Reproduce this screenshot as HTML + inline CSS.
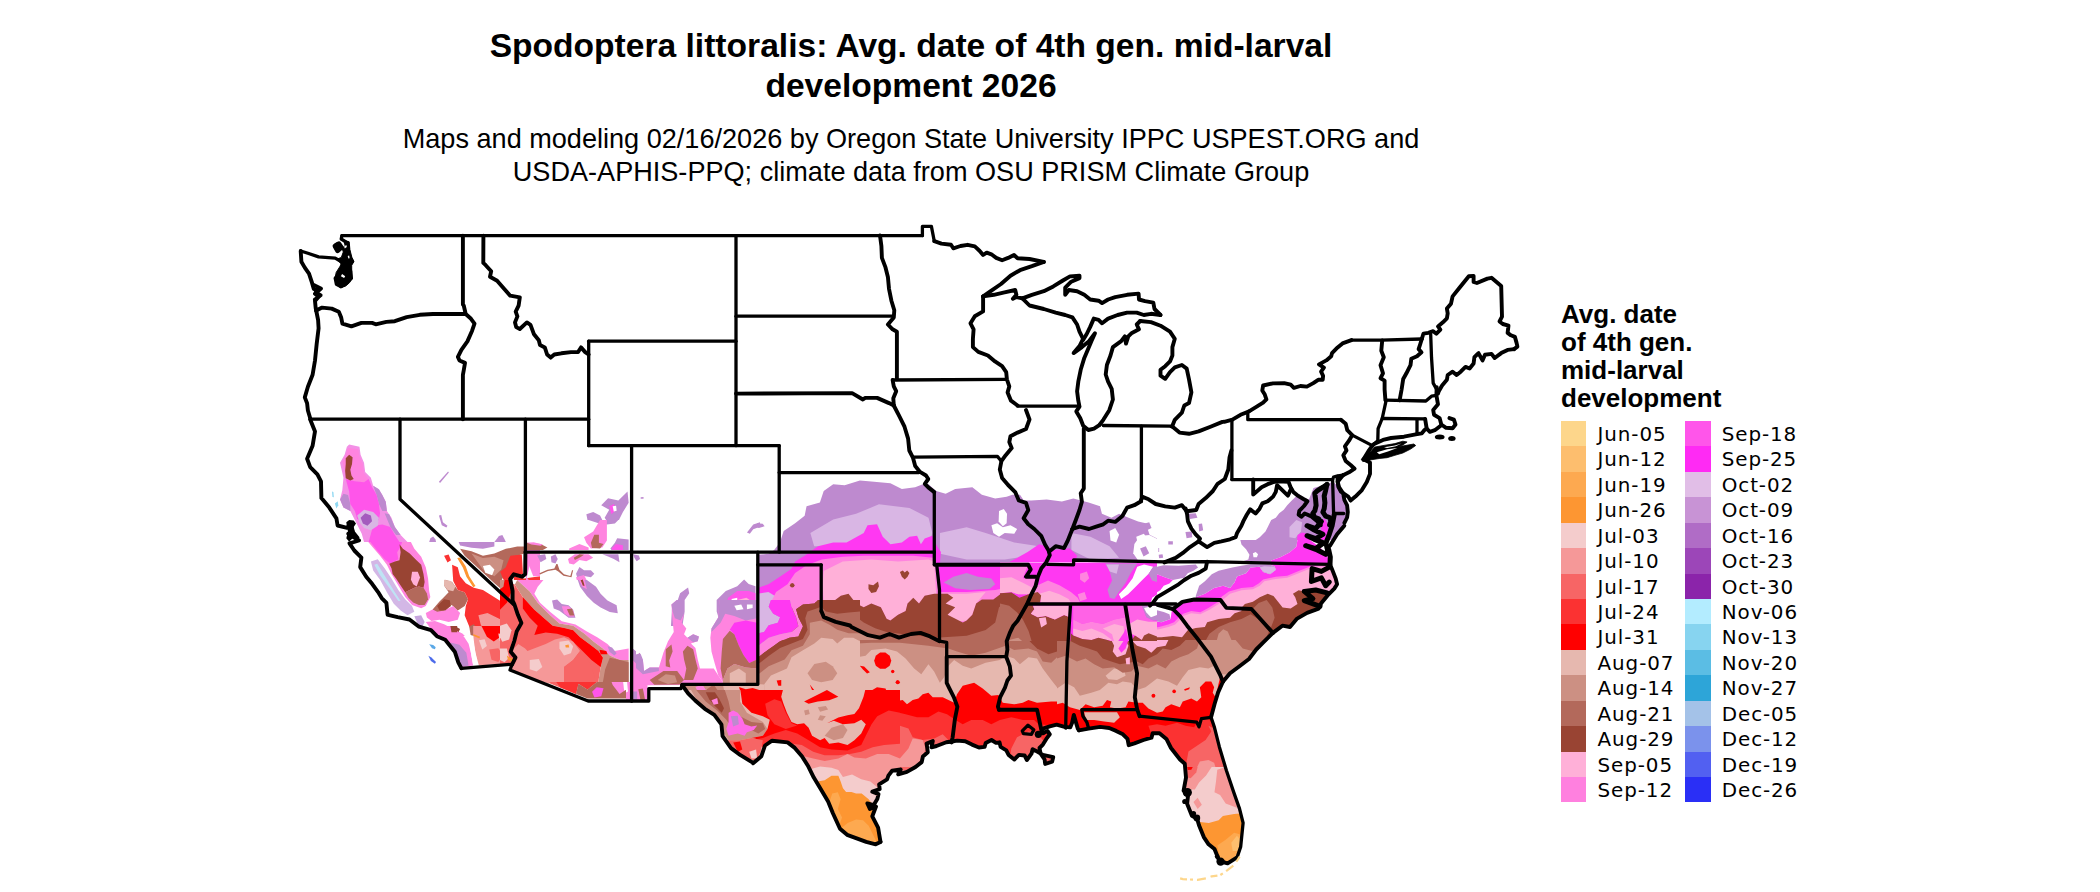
<!DOCTYPE html>
<html lang="en">
<head>
<meta charset="utf-8">
<title>Spodoptera littoralis: Avg. date of 4th gen. mid-larval development 2026</title>
<style>
html,body{margin:0;padding:0;background:#fff;}
body{width:2100px;height:892px;position:relative;overflow:hidden;font-family:"Liberation Sans",sans-serif;color:#000;}
.title{position:absolute;left:0;width:1822px;top:26.4px;text-align:center;font-weight:bold;font-size:33.6px;line-height:39.6px;margin:0;}
.sub{position:absolute;left:0;width:1822px;top:122.1px;text-align:center;font-size:27.1px;line-height:33px;margin:0;}
.legtitle{position:absolute;left:1561px;top:301.3px;font-weight:bold;font-size:26px;line-height:27.93px;margin:0;white-space:nowrap;}
.leg{position:absolute;top:420.9px;margin:0;padding:0;list-style:none;}
.leg li{position:relative;height:25.45px;padding-left:36.6px;font-family:"DejaVu Sans",sans-serif;font-size:19.9px;letter-spacing:0.9px;line-height:28.5px;white-space:nowrap;}
.leg i{position:absolute;left:0;top:0;display:block;width:25.4px;height:25.45px;}
#map{position:absolute;left:0;top:0;}
.b{fill:none;stroke:#000;stroke-width:3.3;stroke-linejoin:round;stroke-linecap:round;}
</style>
</head>
<body>
<h1 class="title">Spodoptera littoralis: Avg. date of 4th gen. mid-larval<br>development 2026</h1>
<p class="sub">Maps and modeling 02/16/2026 by Oregon State University IPPC USPEST.ORG and<br>USDA-APHIS-PPQ; climate data from OSU PRISM Climate Group</p>
<svg id="map" width="2100" height="892" viewBox="0 0 2100 892">
<defs>
<clipPath id="us"><path d="M310.2 419.5 315 431.4 312.6 445.7 307.1 458.8 310.2 467.1 317.4 474.3 321 481.4 321.4 498.1 329.3 507.6 336.4 518.3 337.6 525.5 347.1 527.9 350.7 523.1 352.4 531.4 348.3 533.8 359 540.5 349.5 543.3 354.3 550.5 361.4 557.6 360.2 567.1 366.2 576.7 372.1 583.8 378.1 592.1 381.7 598.1 386.4 602.9 387.6 614.8 388.1 614.8 397.6 617.1 409.5 619.5 419 626.7 431 630.2 436.9 636.2 445.2 639.8 454.8 651.7 458.3 662.4 461.4 668.3 461.4 668.3 511.9 664.3 511.9 664.8 510 670 588.1 701 631.7 701 631.7 701 648.8 701 648.8 688.6 681 688.6 682.1 684.3 757.1 684.3 682.1 685 688.1 693.3 695.2 700.5 704.8 708.8 714.3 714.8 721.4 724.3 722.6 736.2 731 748.1 740.5 755.2 752.4 762.4 753.1 763.3 761.4 756.2 765 745.5 772.1 740.7 787.6 742.4 794.8 747.9 801.9 756.2 807.9 765.7 813.8 777.6 821 789.5 828.1 801.4 832.9 813.3 840 828.8 847.1 834.8 856.7 838.3 866.2 841.9 875.7 844.3 880.5 841.9 880.5 841.9 878.1 827.6 872.3 816.3 876 806.5 869.9 808.9 867.4 803.4 873.6 805.2 877.3 799.1 878.5 794.1 872.3 791.7 879.7 789.2 879.1 784.3 887.1 779.3 888.4 775.6 892.1 770.7 900.7 769.5 898.2 774.4 906.9 771.9 915.5 767 921.7 762.1 922.9 756.5 927.8 752.2 926.6 743.6 932.8 741.1 931.5 747.3 936.5 746 946.3 742.3 953.7 741.3 950.9 741.7 957.2 740.6 965.2 741.2 972 744.6 978.9 747.5 984.6 746.9 985.7 742.9 991.5 740 996 742.9 999.5 742.3 1000.6 746.9 1006.3 750.3 1008.6 754.9 1014.3 759.5 1018.9 754.9 1024.6 755.5 1026.9 760 1031.5 753.7 1032.6 749.2 1037.2 751.5 1042.9 754.9 1053.2 757.2 1052.1 761.7 1045.2 764 1044.6 759.5 1040.6 753.7 1039.5 748 1042.9 744.6 1046.3 738.9 1049.8 734.3 1047.5 730.9 1042.9 733.2 1042.9 733.2 1042.9 728.6 1049.8 726.3 1056.6 724.6 1064.6 726.9 1070.3 727.4 1072.1 722.9 1073.8 714.9 1076.1 722.9 1077.8 728.6 1078.9 730.3 1078.9 730.3 1088.6 728.6 1100.1 726.9 1109.2 728 1116.1 730.9 1122.9 734.3 1127.5 738.9 1128.7 745.2 1134.4 743.4 1143.5 740 1151.5 737.7 1152.7 733.2 1159.5 733.2 1166.4 738.9 1171 748 1175.5 753.7 1180 759.5 1184.8 763.8 1186 777.6 1183.6 790.7 1188.3 793.1 1187.1 803.8 1191.9 815.7 1197.1 818.6 1199 825.2 1203.8 837.1 1208.6 844.3 1214.5 849 1219.3 861 1227.6 863.3 1237.1 857.4 1237.1 857.4 1240.7 846.7 1243.1 822.9 1239.5 808.6 1233.6 791.9 1226.4 770.5 1219.3 746.7 1214.5 727.6 1211 716.9 1211 717.4 1214.5 704.3 1218.1 692.4 1222.9 681.7 1222.9 681.7 1230 673.3 1239.5 666.2 1249 659 1256.2 649.5 1263.3 642.4 1272.9 632.9 1272.9 632.9 1282.4 625.7 1290 627 1297.1 618.6 1307.1 612.9 1318.6 608.6 1321.4 602.9 1328.6 594.3 1334.3 588.6 1337.1 584.3 1335.7 578.6 1332.9 571.4 1330 564.3 1327.1 548.6 1330 545.7 1337.1 534.3 1344.3 525.7 1347.1 517.5 1347.8 512.1 1347.1 505.4 1344.4 500 1343.1 493.3 1339 487.2 1337.7 481.8 1343.1 475.1 1337.6 476.8 1337.6 481.2 1338.4 486.9 1340.9 491.7 1348.2 496.6 1350.6 500.6 1355.4 496.6 1361.9 490.1 1366.8 482 1370 473.9 1370 462.6 1363.5 459.3 1368.4 451.2 1372.4 445.6 1420 440 1420 400 290 400Z"/></clipPath>
<clipPath id="cFA"><rect x="757" y="465" width="400" height="175"/></clipPath>
<clipPath id="cFB1"><rect x="1157" y="440" width="243" height="100"/></clipPath>
<clipPath id="cFB2"><rect x="1157" y="540" width="243" height="101"/></clipPath>
<clipPath id="cFC1"><rect x="757" y="640" width="300" height="127"/></clipPath>
<clipPath id="cFC2"><rect x="1057" y="640" width="343" height="127"/></clipPath>
<clipPath id="cFD1"><rect x="757" y="767" width="337" height="125"/></clipPath>
<clipPath id="cFD2"><rect x="1094" y="767" width="350" height="125"/></clipPath>
<clipPath id="cW1"><rect x="300" y="440" width="240" height="102"/></clipPath>
<clipPath id="cW2"><rect x="300" y="542" width="240" height="94"/></clipPath>
<clipPath id="cW3"><rect x="400" y="626" width="240" height="106"/></clipPath>
<clipPath id="cW5"><rect x="526" y="470" width="234" height="156"/></clipPath>
<clipPath id="cW6"><rect x="626" y="600" width="234" height="102"/></clipPath>
<clipPath id="cW7"><rect x="660" y="690" width="240" height="102"/></clipPath>
<clipPath id="cW8"><rect x="500" y="580" width="136" height="102"/></clipPath>
<clipPath id="cFE"><rect x="1000" y="562" width="157" height="79"/></clipPath>
<clipPath id="cW4"><rect x="526" y="480" width="154" height="40"/></clipPath>
<clipPath id="cFK"><rect x="1100" y="480" width="60" height="82"/></clipPath>
</defs>
<g clip-path="url(#us)">
<g clip-path="url(#cFA)"><g transform="translate(757 470) scale(0.19057)">
<path fill="#BE8ACF" d="M0 445 60 440 90 420 120 380 140 320 200 280 250 240 260 190 330 170 350 110 400 75 460 80 540 55 600 60 700 70 760 100 830 90 870 75 900 75 940 110 990 125 1040 100 1130 90 1180 130 1250 150 1310 140 1340 130 1380 130 1400 160 1440 160 1520 155 1600 165 1660 150 1700 160 1740 170 1800 190 1810 230 1860 250 1900 230 1950 250 2000 270 2040 280 2060 340 2099 360 2099 892 0 892Z"/>
<path fill="#BE8ACF" d="M0 280 30 282 40 295 10 305 0 300Z"/>
<path fill="#D9B6E4" d="M280 330 400 260 520 230 640 180 800 200 900 250 920 330 900 400 400 400 300 400Z"/>
<path fill="#D9B6E4" d="M960 330 1100 300 1200 330 1350 380 1480 400 1500 440 1300 470 1100 470 960 440Z"/>
<path fill="#D9B6E4" d="M1650 330 1750 350 1850 400 1900 460 1750 470 1650 420Z"/>
<path fill="#FF38F2" d="M0 620 60 600 120 560 180 520 200 480 250 450 320 400 400 380 470 380 560 330 580 290 630 285 660 350 700 390 760 380 800 350 840 345 860 390 880 360 920 345 945 400 965 430 960 490 1000 505 1300 495 1350 470 1420 430 1480 390 1520 400 1560 420 1640 410 1680 450 1665 490 1750 500 1850 520 1900 560 1880 620 1860 680 1900 720 1960 740 2099 700 2099 892 0 892Z"/>
<path fill="#D9B6E4" d="M0 650 60 640 110 670 120 740 90 800 110 870 60 892 0 892Z"/>
<path fill="#BE8ACF" d="M980 590 1030 560 1100 540 1160 560 1230 570 1250 600 1220 625 1120 630 1040 620Z"/>
<path fill="#FF84DF" d="M100 892 110 800 60 720 100 640 160 600 200 540 260 500 340 470 450 455 560 450 700 450 820 450 925 460 945 520 955 600 960 640 1100 640 1250 630 1400 600 1430 570 1480 560 1500 530 1560 510 1640 520 1700 540 1760 560 1800 600 1840 640 1850 690 1900 730 2099 720 2099 892Z"/>
<path fill="#FF38F2" d="M1560 560 1640 570 1700 620 1760 640 1740 690 1660 680 1600 640Z"/>
<path fill="#FFB0D8" d="M350 530 450 480 600 470 740 480 900 470 930 480 940 650 880 660 850 700 820 680 790 700 780 740 740 760 700 790 680 780 650 720 600 700 560 720 520 700 480 660 440 660 400 690 350 700 345 600Z"/>
<path fill="#FFB0D8" d="M960 650 1100 650 1200 640 1150 700 1130 760 1100 790 1000 800 960 780Z"/>
<path fill="#994433" d="M160 892 170 720 250 700 330 690 350 700 400 690 440 660 480 650 520 700 560 720 600 700 650 720 680 780 700 790 740 760 780 740 790 700 820 670 850 700 880 660 930 650 1000 650 1030 670 990 700 1040 720 1000 760 1080 800 1100 790 1130 760 1150 700 1180 680 1240 680 1280 650 1340 660 1400 640 1420 620 1440 650 1490 660 1480 700 1500 740 1560 780 1640 780 1640 892Z"/>
<path fill="#B3695B" d="M200 892 230 800 280 740 340 720 420 740 470 720 520 770 560 800 620 830 680 850 760 860 850 870 940 880 1100 870 1200 840 1250 800 1270 720 1300 700 1320 740 1340 800 1330 892Z"/>
<path fill="#CC9083" d="M230 892 260 820 330 790 430 800 520 840 600 880 640 892Z"/>
<path fill="#994433" d="M750 535 765 528 775 538 788 528 800 540 790 560 775 575 760 560Z"/>
<path fill="#994433" d="M585 600 610 605 635 585 640 610 625 640 600 645 585 625Z"/>
<path fill="#994433" d="M197 605 193.5 613.5 185 617 176.5 613.5 173 605 176.5 596.5 185 593 193.5 596.5Z"/>
<path fill="#FFFFFF" d="M1270 215 1295 205 1312 230 1310 280 1290 295 1268 270Z"/>
<path fill="#FFFFFF" d="M1230 290 1260 280 1290 300 1330 290 1365 310 1350 335 1300 330 1270 350 1240 330Z"/>
<path fill="#FFFFFF" d="M1850 320 1880 305 1900 340 1885 380 1855 370Z"/>
<path fill="#FFFFFF" d="M1990 350 2030 335 2055 370 2040 400 2000 395Z"/>
<path fill="#FFFFFF" d="M1900 690 1940 640 2000 570 2050 520 2099 490 2099 560 2040 600 1990 660 1950 700Z"/>
</g></g>
<g clip-path="url(#cFB1)"><g transform="translate(1150 440) scale(0.11434)">
<path fill="#BE8ACF" d="M900 892 960 850 1010 800 1030 760 1060 700 1100 680 1130 640 1170 610 1200 570 1240 530 1270 500 1300 470 1340 500 1390 520 1410 470 1430 420 1500 400 1560 380 1600 365 1640 400 1660 450 1690 520 1720 580 1735 640 1700 720 1660 780 1620 840 1590 892Z"/>
<path fill="#D9B6E4" d="M1220 760 1280 700 1330 720 1320 800 1270 860 1220 850Z"/>
<path fill="#FF38F2" d="M1285 892 1290 830 1330 810 1380 820 1410 870 1430 892Z"/>
<path fill="#FF38F2" d="M1490 700 1530 690 1555 740 1560 800 1540 860 1520 892 1480 892 1500 800Z"/>
<path fill="#BE8ACF" d="M335 645 400 640 415 680 350 690Z"/>
<path fill="#BE8ACF" d="M425 735 455 730 465 790 430 800Z"/>
<path fill="#BE8ACF" d="M310 805 365 800 370 850 320 860Z"/>
</g></g>
<g clip-path="url(#cFB2)"><g transform="translate(1150 540) scale(0.11434)">
<path fill="#BE8ACF" d="M790 0 800 40 840 80 870 130 860 170 800 190 790 205 1050 205 1060 180 1140 150 1220 110 1280 60 1290 0Z"/>
<path fill="#FFFFFF" d="M900 115 925 105 945 125 935 150 905 150Z"/>
<path fill="#FF38F2" d="M1290 0 1280 60 1220 110 1140 150 1060 180 1050 205 1570 205 1545 120 1480 60 1400 0Z"/>
<path fill="#BE8ACF" d="M40 70 80 70 80 105 40 105Z"/>
<path fill="#BE8ACF" d="M160 10 200 10 200 40 160 40Z"/>
<path fill="#BE8ACF" d="M0 110 30 105 35 135 0 140Z"/>
<path fill="#BE8ACF" d="M75 130 110 125 115 155 80 160Z"/>
<path fill="#FF38F2" d="M400 500 480 470 560 420 640 400 700 420 740 370 760 320 840 290 880 240 960 235 990 280 1050 300 1100 260 1090 230 1040 212 1600 212 1700 400 1700 892 0 892 0 700 100 720 180 690 190 620 250 560 350 520 400 515Z"/>
<path fill="#BE8ACF" d="M400 490 430 400 480 360 540 300 600 270 720 240 800 225 880 212 1040 212 1090 230 1100 260 1050 300 990 280 960 235 880 240 840 290 760 320 740 370 700 420 640 400 560 420 480 470 400 500Z"/>
<path fill="#D9B6E4" d="M960 240 1000 230 1090 235 1100 262 1050 298 990 278Z"/>
<path fill="#BE8ACF" d="M30 240 120 220 250 225 400 215 420 240 380 270 330 290 300 330 200 350 140 330 60 300Z"/>
<path fill="#FF38F2" d="M0 330 60 300 140 330 200 350 170 380 120 400 90 440 40 470 0 480Z"/>
<path fill="#BE8ACF" d="M0 620 60 615 120 630 170 650 180 690 100 720 0 700Z"/>
<path fill="#FF84DF" d="M620 500 690 450 800 420 900 410 950 380 990 345 1100 322 1200 312 1300 272 1400 232 1480 222 1600 215 1700 400 1700 892 0 892 0 770 80 760 160 740 210 720 250 680 290 645 360 622 440 632 510 595 590 545Z"/>
<path fill="#FFB0D8" d="M640 520 700 470 800 440 900 430 960 400 1000 360 1100 340 1200 330 1300 290 1400 250 1480 240 1600 230 1700 400 1700 892 0 892 0 790 80 780 160 760 220 740 260 700 300 660 360 640 440 650 520 610 600 560Z"/>
<path fill="#994433" d="M800 592 830 560 900 540 960 500 1030 470 1080 490 1120 540 1160 590 1230 600 1290 560 1270 500 1250 470 1300 440 1350 450 1400 440 1470 430 1540 470 1640 450 1700 500 1700 892 0 892 0 850 100 850 200 840 280 850 330 790 400 770 480 760 500 720 600 690 700 680 740 640 800 620Z"/>
<path fill="#B3695B" d="M880 620 950 550 1020 525 1070 590 1090 680 1060 760 1000 740 950 660Z"/>
<path fill="#B3695B" d="M480 892 520 820 600 760 700 720 800 690 880 650 960 700 1040 800 1000 892Z"/>
<path fill="#CC9083" d="M580 892 600 820 640 780 680 800 720 892Z"/>
</g></g>
<g clip-path="url(#cFC1)"><g transform="translate(757 640) scale(0.14286)">
<path fill="#E6B8AF" d="M0 0 2100 0 2100 892 0 892Z"/>
<path fill="#CC9083" d="M0 0 2100 0 2100 330 2060 280 2000 200 1960 130 1900 120 1840 170 1800 130 1740 110 1700 140 1600 160 1500 200 1440 180 1380 140 1340 180 1310 260 1280 300 1240 220 1200 170 1150 240 1100 200 1040 130 980 80 900 60 800 70 760 110 700 120 640 90 560 100 500 60 440 70 380 110 300 110 250 150 220 220 160 260 100 280 40 260 0 300Z"/>
<path fill="#CC9083" d="M370 250 420 230 500 250 560 200 620 190 700 230 720 270 660 300 640 350 580 320 500 330 440 290 380 290Z"/>
<path fill="#CC9083" d="M520 620 580 590 640 610 620 680 560 700 500 670Z"/>
<path fill="#B3695B" d="M0 0 2100 0 2100 120 2060 160 2000 150 1960 80 1900 60 1800 70 1740 40 1600 90 1500 110 1400 80 1340 60 1200 40 1000 20 800 20 600 30 400 40 300 60 220 130 140 180 60 200 0 230Z"/>
<path fill="#994433" d="M0 0 300 0 260 40 180 90 100 150 40 180 0 190Z"/>
<path fill="#994433" d="M1900 0 2100 0 2100 80 2040 100 1960 60Z"/>
<path fill="#FF84DF" d="M0 0 160 0 120 40 60 80 0 100Z"/>
<path fill="#FF38F2" d="M0 0 100 0 40 50 0 60Z"/>
<path fill="#FF0000" d="M0 360 60 360 120 390 170 420 200 480 220 560 260 600 320 580 360 620 380 680 420 720 470 750 540 740 600 760 640 740 680 700 730 660 750 620 700 560 640 540 580 540 520 580 480 580 560 530 640 510 700 500 730 460 740 400 790 360 840 330 900 340 920 400 960 430 1020 420 1050 450 1090 420 1130 410 1160 380 1200 370 1230 400 1300 400 1340 420 1380 440 1400 380 1440 320 1520 300 1580 340 1640 390 1690 385 1720 440 1800 450 1860 440 1900 420 1960 440 2060 430 2100 430 2100 892 0 892Z"/>
<path fill="#FF0000" d="M940 145 928.5 180.3 898.5 202.1 861.5 202.1 831.5 180.3 820 145 831.5 109.7 861.5 87.9 898.5 87.9 928.5 109.7Z"/>
<path fill="#FF0000" d="M168 300 162.7 312.7 150 318 137.3 312.7 132 300 137.3 287.3 150 282 162.7 287.3Z"/>
<path fill="#FF0000" d="M1000 295 995.6 305.6 985 310 974.4 305.6 970 295 974.4 284.4 985 280 995.6 284.4Z"/>
<path fill="#FF0000" d="M962 220 958.5 228.5 950 232 941.5 228.5 938 220 941.5 211.5 950 208 958.5 211.5Z"/>
<path fill="#FF0000" d="M720 180 750 185 790 225 770 235 740 205Z"/>
<path fill="#FF0000" d="M330 435 380 400 440 350 520 380 565 410 480 430 400 445Z"/>
<path fill="#FB3232" d="M0 420 50 410 130 440 180 500 200 580 240 640 300 640 340 680 380 740 440 770 560 775 660 770 720 720 760 640 780 560 850 540 870 490 960 500 1040 520 1120 540 1200 540 1270 500 1330 520 1390 560 1440 590 1500 560 1580 560 1640 590 1700 560 1780 540 1860 560 1940 560 1970 590 2100 600 2100 892 0 892Z"/>
<path fill="#F76565" d="M0 690 100 650 200 640 260 680 330 730 400 780 500 800 640 790 720 770 780 720 800 640 880 620 960 640 1000 600 1060 620 1090 680 1160 700 1240 690 1300 660 1340 700 1340 892 0 892Z"/>
<path fill="#F76565" d="M1760 892 1780 760 1820 680 1900 640 1960 650 2000 700 2060 720 2100 700 2100 892Z"/>
<path fill="#F59898" d="M380 892 400 840 480 830 600 850 700 830 760 800 840 810 900 840 1000 830 1060 760 1090 690 1160 700 1180 760 1160 820 1100 892Z"/>
<path fill="#B3695B" d="M0 560 40 550 90 590 80 640 40 660 0 670Z"/>
</g></g>
<g clip-path="url(#cFC2)"><g transform="translate(1057 640) scale(0.14286)">
<path fill="#E6B8AF" d="M0 0 2100 0 2100 892 0 892Z"/>
<path fill="#CC9083" d="M0 0 2100 0 2100 300 1160 240 1120 230 1100 180 1060 200 1000 190 920 210 880 260 840 320 780 290 700 270 620 330 560 350 520 300 460 290 420 310 360 300 300 350 240 370 160 390 120 330 60 300 0 340Z"/>
<path fill="#E6B8AF" d="M340 250 400 200 470 210 480 250 420 280 360 275Z"/>
<path fill="#B3695B" d="M0 0 1000 0 980 60 920 100 860 120 800 150 760 200 700 170 640 200 560 180 520 220 460 230 400 190 320 200 260 170 200 130 140 150 60 110 0 130Z"/>
<path fill="#B3695B" d="M1250 0 1300 60 1380 80 1420 40 1480 0Z"/>
<path fill="#994433" d="M80 0 900 0 860 40 800 70 740 60 700 100 640 130 600 170 560 150 500 160 440 170 380 150 320 130 280 80 220 60 160 40Z"/>
<path fill="#FFB0D8" d="M380 0 480 0 500 40 480 100 420 120 390 80 400 40Z"/>
<path fill="#FFB0D8" d="M520 0 780 0 760 40 700 50 660 90 620 60 560 40Z"/>
<path fill="#FFB0D8" d="M480 130 510 120 510 170 485 170Z"/>
<path fill="#FF38F2" d="M430 60 470 0 500 0 480 60 450 90Z"/>
<path fill="#FF0000" d="M0 450 40 440 90 470 160 490 200 450 260 470 320 460 350 420 380 430 370 470 420 480 480 470 500 430 560 440 600 440 640 480 700 510 740 500 760 470 800 450 860 470 880 430 940 410 980 430 1010 400 1000 330 1040 290 1080 290 1100 330 1090 370 1110 400 1130 310 1140 270 1180 260 2100 260 2100 892 0 892Z"/>
<path fill="#E6B8AF" d="M190 505 420 505 440 540 400 580 330 570 260 560 200 560Z"/>
<path fill="#FF0000" d="M689 390 684.9 399.9 675 404 665.1 399.9 661 390 665.1 380.1 675 376 684.9 380.1Z"/>
<path fill="#FF0000" d="M833 360 829.2 369.2 820 373 810.8 369.2 807 360 810.8 350.8 820 347 829.2 350.8Z"/>
<path fill="#FF0000" d="M890 345 930 330 925 345 895 355Z"/>
<path fill="#FB3232" d="M640 600 700 590 760 600 840 580 900 600 960 610 1000 545 1060 545 1120 650 1200 892 780 892 760 760 700 700 660 660Z"/>
<path fill="#F76565" d="M900 892 920 780 980 740 1040 700 1080 640 1060 600 1100 620 1140 720 1200 892Z"/>
<path fill="#F59898" d="M980 892 1000 850 1060 840 1100 860 1110 892Z"/>
</g></g>
<g clip-path="url(#cFD1)"><g transform="translate(800 767) scale(0.14013)">
<path fill="#F59898" d="M-320 0 2098 0 2098 892 -320 892Z"/>
<path fill="#F76565" d="M-320 0 2098 0 2098 60 1500 60 1100 40 800 20 600 30 560 0 400 0 300 -10 -320 -10Z"/>
<path fill="#F4CCCC" d="M0 0 100 0 200 10 300 30 350 60 420 80 470 110 480 160 530 180 560 250 560 600 0 600Z"/>
<path fill="#FD9632" d="M100 110 200 80 240 55 280 70 300 130 340 170 400 190 440 190 490 230 520 270 540 400 600 560 500 580 250 500 180 250Z"/>
<path fill="#FDA950" d="M250 470 290 440 340 400 400 375 450 380 490 420 520 480 550 540 560 580 400 560 300 500Z"/>
<path fill="#FDA950" d="M230 190 270 180 290 230 270 300 300 360 280 420 250 380 200 280Z"/>
</g></g>
<g clip-path="url(#cFD2)"><g transform="translate(1150 767) scale(0.14013)">
<path fill="#F4CCCC" d="M-400 0 2098 0 2098 892 -400 892Z"/>
<path fill="#F59898" d="M250 0 440 0 400 60 350 110 320 160 260 160 200 100Z"/>
<path fill="#F59898" d="M480 20 540 0 620 0 600 100 620 200 620 290 540 260 500 200 460 180 470 110Z"/>
<path fill="#F59898" d="M310 250 340 220 370 270 340 300Z"/>
<path fill="#F76565" d="M230 0 340 0 330 40 290 80 250 70Z"/>
<path fill="#FF0000" d="M265 0 305 0 295 20 270 22Z"/>
<path fill="#FD9632" d="M340 390 420 400 490 380 520 350 600 335 660 330 700 420 680 560 620 700 500 700 420 560 370 520Z"/>
<path fill="#FDA950" d="M480 560 540 520 600 470 640 480 660 560 620 690 510 690Z"/>
<path fill="#FDBE6E" d="M580 540 620 490 645 520 630 600 590 600Z"/>
</g></g>
<g clip-path="url(#cW1)"><g transform="translate(300 440) scale(0.11434)">
<path fill="#F390E6" d="M430 40 520 60 530 130 560 200 570 280 620 330 640 400 690 430 720 480 750 540 760 620 800 680 830 760 880 830 940 892 560 892 540 820 480 700 440 620 380 590 350 520 370 440 380 330 350 200 390 130 410 60Z"/>
<path fill="#BE8ACF" d="M350 520 380 470 420 480 440 560 440 620 380 590Z"/>
<path fill="#BE8ACF" d="M640 400 690 430 720 480 750 540 760 620 720 620 690 560 670 480Z"/>
<path fill="#BE8ACF" d="M740 640 780 650 830 760 880 830 840 830 790 760Z"/>
<path fill="#FF84DF" d="M420 70 510 80 520 140 550 210 560 290 600 340 560 370 480 360 400 340 385 250 370 190 400 130Z"/>
<path fill="#FF55EA" d="M400 340 480 360 560 370 600 340 630 410 670 480 690 560 700 640 690 700 640 740 560 720 500 690 480 620 440 560 430 450Z"/>
<path fill="#FF55EA" d="M640 750 720 740 790 760 830 830 870 892 600 892 620 820Z"/>
<path fill="#994433" d="M400 160 430 130 460 150 455 210 440 260 450 310 470 340 440 355 400 335 395 270 400 210Z"/>
<path fill="#D9B6E4" d="M500 660 560 610 640 630 690 680 680 750 620 790 560 770 520 720Z"/>
<path fill="#A45BBE" d="M530 680 570 640 620 660 630 710 590 750 550 730Z"/>
<path fill="#8FD8F2" d="M280 450 292 455 296 500 284 498Z"/>
<path fill="#8FD8F2" d="M305 555 330 535 335 570 318 600Z"/>
<path fill="#BE8ACF" d="M1215 365 1295 275 1302 285 1225 375Z"/>
<path fill="#BE8ACF" d="M1130 892 1140 860 1165 845 1185 870 1190 892Z"/>
<path fill="#BE8ACF" d="M1700 892 1740 840 1770 830 1790 870 1800 892Z"/>
<path fill="#BE8ACF" d="M1215 660 1235 655 1250 720 1290 750 1280 765 1240 745Z"/>
</g></g>
<g clip-path="url(#cW2)"><g transform="translate(300 542) scale(0.11434)">
<path fill="#D3B7E6" d="M620 170 680 150 740 230 800 320 860 420 920 500 980 560 1000 610 940 640 880 600 820 540 760 440 700 330 640 250Z"/>
<path fill="#BFE3F4" d="M650 200 675 190 750 310 830 440 880 515 860 515 780 400 700 290Z"/>
<path fill="#FF84DF" d="M580 -20 960 -20 1000 60 1060 130 1100 220 1120 320 1130 430 1140 480 1100 560 1060 580 980 550 920 480 860 380 800 280 760 200 700 120 640 50Z"/>
<path fill="#FF55EA" d="M600 -20 900 -20 880 40 850 90 860 150 790 190 740 150 680 80 640 30Z"/>
<path fill="#994433" d="M870 20 900 60 960 100 1010 150 1060 200 1080 280 1090 350 1080 400 1040 390 1000 400 960 420 920 440 880 380 840 320 810 280 800 230 780 190 830 170 870 160 880 90Z"/>
<path fill="#B3695B" d="M920 440 960 420 1000 400 1040 390 1080 400 1110 450 1120 500 1090 550 1040 550 990 530 950 490Z"/>
<path fill="#FFB0D8" d="M980 260 1030 260 1050 310 1020 390 990 370 970 330Z"/>
<path fill="#C7A6DE" d="M1000 650 1060 640 1090 700 1070 740 1030 720Z"/>
<path fill="#FF84DF" d="M1100 620 1180 580 1260 600 1340 560 1400 620 1380 680 1300 700 1220 680 1150 690 1110 660Z"/>
<path fill="#FF84DF" d="M1100 700 1180 690 1260 720 1340 760 1420 800 1480 860 1500 930 1300 930 1240 840 1160 780Z"/>
<path fill="#B3695B" d="M1160 590 1220 520 1260 480 1300 440 1260 380 1270 330 1330 350 1380 420 1440 440 1470 500 1440 560 1380 600 1340 560 1300 540 1260 600 1200 610Z"/>
<path fill="#994433" d="M1200 560 1260 500 1310 510 1320 560 1270 600 1220 600Z"/>
<path fill="#E6B8AF" d="M1260 330 1320 340 1360 390 1340 430 1290 420 1260 380Z"/>
<path fill="#994433" d="M1310 770 1360 740 1400 760 1380 800 1330 800Z"/>
<path fill="#FB3232" d="M1330 200 1380 220 1400 300 1450 360 1520 400 1600 420 1680 470 1760 520 1850 560 1900 620 1950 700 1900 760 1860 830 1850 930 1500 930 1520 800 1480 740 1440 640 1450 560 1470 500 1440 440 1380 420 1340 340Z"/>
<path fill="#F59898" d="M1560 640 1640 620 1720 660 1800 700 1840 760 1800 830 1780 930 1600 930 1620 800 1580 720Z"/>
<path fill="#B3695B" d="M1480 740 1520 720 1560 780 1540 850 1500 860Z"/>
<path fill="#B3695B" d="M1400 60 1500 80 1600 120 1700 100 1800 60 1900 40 1960 40 1960 100 1900 120 1850 200 1800 260 1760 340 1800 420 1840 480 1700 360 1560 230 1440 120Z"/>
<path fill="#CC9083" d="M1500 100 1600 140 1700 130 1780 160 1760 240 1700 300 1600 240Z"/>
<path fill="#FB3232" d="M1840 120 1940 110 1950 280 1900 300 1850 290 1840 350 1780 330 1750 260 1800 220Z"/>
<path fill="#FFFFFF" d="M1600 210 1660 200 1700 240 1680 290 1620 270Z"/>
<path fill="#BE8ACF" d="M1380 -20 1700 -20 1700 40 1600 60 1500 50 1400 30Z"/>
<path fill="#FB3232" d="M1870 300 1960 320 2099 300 2099 930 1880 930 1900 780 1960 720 1900 620 1870 500Z"/>
<path fill="#CC9083" d="M1940 360 2000 340 2040 420 2000 500 1950 460Z"/>
<path fill="#FF84DF" d="M1980 60 2099 40 2099 300 2040 300 2000 200Z"/>
<path fill="#FD9632" d="M1375 140 1400 135 1450 215 1480 300 1535 385 1515 395 1455 305 1425 225Z"/>
<path fill="#FB3232" d="M1260 120 1300 110 1320 160 1290 180Z"/>
</g></g>
<g clip-path="url(#cW3)"><g transform="translate(400 630) scale(0.11434)">
<path fill="#FF84DF" d="M280 -60 420 -60 560 60 600 120 620 200 640 310 540 325 510 260 480 180 420 110 330 60Z"/>
<path fill="#BE8ACF" d="M440 110 520 130 580 200 600 310 545 322 510 250 480 180Z"/>
<path fill="#994433" d="M440 -40 500 -40 500 20 450 20Z"/>
<path fill="#F59898" d="M640 -60 1000 -60 1000 60 960 150 990 250 960 290 690 310 660 200 640 100Z"/>
<path fill="#F76565" d="M780 170 860 160 900 220 860 280 800 260Z"/>
<path fill="#FF0000" d="M700 -60 900 -60 880 60 820 100 760 60Z"/>
<path fill="#F4CCCC" d="M860 30 940 40 950 120 900 140 870 90Z"/>
<path fill="#F4CCCC" d="M690 90 740 80 760 140 720 170Z"/>
<path fill="#FFFFFF" d="M600 40 640 50 660 200 680 310 640 312 620 200Z"/>
<path fill="#FD9632" d="M930 220 960 230 990 250 985 280 950 275Z"/>
<path fill="#FD9632" d="M640 35 700 60 695 75 640 50Z"/>
<path fill="#F76565" d="M1020 -60 2000 -60 2000 100 1800 140 1760 240 1740 340 1740 440 1640 520 1560 470 1540 560 1000 340 980 300 1010 250 980 170 1030 100Z"/>
<path fill="#FF0000" d="M1150 -60 1500 -60 1460 50 1380 90 1300 60 1200 80Z"/>
<path fill="#FB3232" d="M1040 130 1140 110 1160 180 1100 220 1040 200Z"/>
<path fill="#F59898" d="M1010 250 1100 240 1240 230 1340 180 1400 100 1480 90 1540 140 1520 200 1440 250 1400 330 1340 420 1300 470 1000 340 980 300Z"/>
<path fill="#FB3232" d="M1340 420 1440 380 1560 400 1640 340 1700 260 1740 300 1740 440 1640 520 1560 470 1540 560 1400 500Z"/>
<path fill="#F4CCCC" d="M1140 270 1230 250 1240 320 1180 360 1140 330Z"/>
<path fill="#F4CCCC" d="M1390 110 1470 90 1530 140 1500 200 1430 240 1390 180Z"/>
<path fill="#FD9632" d="M1445 125 1485 135 1480 155 1450 150Z"/>
<path fill="#FF0000" d="M1600 60 1680 100 1760 180 1800 200 1760 220 1680 160 1620 110Z"/>
<path fill="#FF84DF" d="M1600 -60 1800 20 1900 100 1980 160 2000 200 1900 220 1800 140 1700 80Z"/>
<path fill="#B3695B" d="M1540 560 1560 470 1640 520 1740 440 1740 340 1800 240 1900 220 2000 230 2000 600 1640 600Z"/>
<path fill="#E6B8AF" d="M1820 220 1900 240 1960 300 1940 360 1880 340 1830 290Z"/>
<path fill="#FF55EA" d="M1680 540 1720 500 1780 510 1760 580 1700 590Z"/>
<path fill="#FF84DF" d="M1840 340 1900 360 1960 420 1980 520 1920 560 1860 480 1830 400Z"/>
<path fill="#FFFFFF" d="M1950 440 1990 450 1990 520 1960 530Z"/>
<path fill="#FF84DF" d="M2040 240 2099 200 2099 600 2040 600Z"/>
<path fill="#BE8ACF" d="M2040 240 2099 200 2099 320 2040 330Z"/>
</g></g>
<g clip-path="url(#cW5)"><g transform="translate(520 520) scale(0.11434)">
<path fill="#BE8ACF" d="M600 0 860 0 830 30 760 40 700 30 660 20Z"/>
<path fill="#FF84DF" d="M560 150 640 100 700 0 760 0 760 100 760 180 720 240 620 250 580 200Z"/>
<path fill="#B3695B" d="M620 200 650 130 690 130 690 200 730 210 700 250 630 245Z"/>
<path fill="#FF84DF" d="M430 250 520 210 600 240 600 262 430 262Z"/>
<path fill="#BE8ACF" d="M790 250 830 200 850 160 950 170 950 262 800 262Z"/>
<path fill="#FF55EA" d="M800 250 840 210 900 220 900 262 810 262Z"/>
<path fill="#B3695B" d="M0 210 60 200 180 210 240 240 200 262 0 262Z"/>
<path fill="#FF84DF" d="M60 200 120 195 200 215 180 225 100 215Z"/>
<path fill="#FF84DF" d="M420 340 480 300 600 300 640 330 580 360 520 350 470 390 430 380Z"/>
<path fill="#B3695B" d="M470 330 520 300 560 305 520 330 480 350Z"/>
<path fill="#BE8ACF" d="M720 300 860 300 870 370 820 340 770 320Z"/>
<path fill="#BE8ACF" d="M270 320 310 300 330 340 310 380 275 370Z"/>
<path fill="#BE8ACF" d="M150 310 220 300 230 340 180 370Z"/>
<path fill="#B3695B" d="M170 465 240 435 300 425 318 385 328 385 345 435 385 475 440 490 455 440 465 440 450 500 380 488 335 450 310 435 245 447 175 477Z"/>
<path fill="#BE8ACF" d="M490 470 520 410 560 440 620 440 650 470 620 500 560 490 500 500Z"/>
<path fill="#FF84DF" d="M490 500 560 480 590 540 600 600 590 640 540 620 510 570Z"/>
<path fill="#994433" d="M530 530 550 520 565 570 560 610 540 590Z"/>
<path fill="#BE8ACF" d="M560 640 600 560 640 580 700 600 720 680 800 700 850 740 830 810 760 780 700 780 650 750 600 700Z"/>
<path fill="#D9B6E4" d="M620 640 680 640 700 700 660 720 620 690Z"/>
<path fill="#BE8ACF" d="M280 710 320 690 360 740 430 740 490 800 500 930 380 930 350 810 300 780Z"/>
<path fill="#FF84DF" d="M370 770 430 760 480 810 480 930 400 930Z"/>
<path fill="#994433" d="M410 790 450 780 470 850 430 860Z"/>
<path fill="#FF84DF" d="M0 290 60 290 90 340 80 420 60 500 100 560 120 640 180 720 240 800 280 930 0 930Z"/>
<path fill="#FF0000" d="M0 300 40 300 50 480 0 480Z"/>
<path fill="#E6B8AF" d="M0 540 60 560 90 640 60 700 0 680Z"/>
<path fill="#FF0000" d="M0 700 80 720 140 800 200 930 0 930Z"/>
<path fill="#B3695B" d="M100 720 150 700 200 800 240 880 200 892 160 800Z"/>
<path fill="#BE8ACF" d="M990 300 1040 310 1050 340 1020 360 1000 330Z"/>
<path fill="#BE8ACF" d="M1330 760 1380 700 1400 640 1470 590 1480 640 1440 700 1440 800 1420 930 1320 930Z"/>
<path fill="#FF55EA" d="M1360 850 1400 830 1400 930 1360 930Z"/>
<path fill="#BE8ACF" d="M1720 700 1800 620 1900 580 1960 520 2000 560 2060 580 2060 930 1760 930 1720 800Z"/>
<path fill="#FF55EA" d="M1820 680 1900 620 2000 620 2060 640 2060 930 1800 930 1790 780Z"/>
<path fill="#FFB0D8" d="M1900 700 1980 680 2040 720 2040 800 1960 820 1900 780Z"/>
<path fill="#FFFFFF" d="M1850 690 1900 680 1900 720 1860 730Z"/>
<path fill="#FFFFFF" d="M1960 740 2020 740 2020 790 1970 790Z"/>
<path fill="#BE8ACF" d="M1985 110 2040 40 2099 20 2099 60 2040 80 2010 120Z"/>
</g></g>
<g clip-path="url(#cW6)"><g transform="translate(620 600) scale(0.11434)">
<path fill="#BE8ACF" d="M1198 -30 1500 -30 1500 300 1198 420Z"/>
<path fill="#D9B6E4" d="M1210 -30 1330 -30 1300 60 1340 120 1400 150 1380 200 1300 220 1260 280 1210 290Z"/>
<path fill="#FF38F2" d="M1300 60 1330 -30 1480 -30 1500 60 1540 150 1560 230 1500 280 1400 300 1300 330 1210 400 1210 290 1260 280 1300 220 1380 200 1400 150 1340 120Z"/>
<path fill="#FF84DF" d="M1480 -30 1760 -30 1700 30 1600 40 1540 80 1560 150 1600 230 1560 320 1480 330 1400 360 1300 430 1210 500 1210 400 1300 330 1400 300 1500 280 1560 230 1540 150 1500 60Z"/>
<path fill="#994433" d="M1210 500 1300 430 1400 360 1480 330 1560 320 1600 230 1560 150 1540 80 1600 40 1700 30 1760 -30 2099 -30 2099 930 1210 930Z"/>
<path fill="#B3695B" d="M1210 560 1300 490 1400 420 1500 380 1600 340 1640 260 1620 160 1640 100 1700 80 1760 60 1800 100 1900 120 2000 110 2099 100 2099 930 1210 930Z"/>
<path fill="#CC9083" d="M1210 650 1300 580 1440 520 1500 440 1600 400 1660 300 1660 200 1760 180 1840 220 1900 260 2000 290 2099 290 2099 930 1210 930Z"/>
<path fill="#E6B8AF" d="M1260 930 1260 740 1320 660 1460 600 1500 500 1600 440 1700 380 1760 330 1860 340 1900 380 1960 330 2040 330 2099 360 2099 930Z"/>
<path fill="#CC9083" d="M1640 640 1700 560 1800 540 1860 580 1900 640 1860 700 1760 720 1680 700Z"/>
<path fill="#CC9083" d="M540 740 1020 740 1198 735 1260 740 1260 930 640 930 600 820Z"/>
<path fill="#E6B8AF" d="M900 740 1198 735 1260 740 1260 930 940 930Z"/>
<path fill="#FF84DF" d="M660 760 720 740 760 800 760 930 700 930 690 820Z"/>
<path fill="#B3695B" d="M760 780 820 740 860 800 880 930 780 930Z"/>
<path fill="#FF0000" d="M1020 700 1040 760 1100 780 1160 770 1260 800 1340 810 1420 850 1380 930 1080 930 1060 820Z"/>
<path fill="#FF0000" d="M1660 740 1700 790 1780 800 1860 850 1900 930 1640 930 1700 840Z"/>
<path fill="#FF0000" d="M1370 705 1410 700 1410 750 1385 750Z"/>
<path fill="#FF84DF" d="M450 40 520 -20 560 -20 560 120 540 200 580 250 560 300 590 330 640 300 690 320 680 360 620 380 660 420 680 520 700 600 820 600 860 660 900 720 900 738 240 745 240 770 100 770 100 500 200 520 210 620 260 590 340 590 380 460 420 360 470 280 460 180Z"/>
<path fill="#BE8ACF" d="M450 40 520 -20 560 -20 560 120 530 180 480 160 460 100Z"/>
<path fill="#BE8ACF" d="M590 330 640 300 690 320 680 360 640 370Z"/>
<path fill="#BE8ACF" d="M100 480 180 470 200 520 210 620 260 590 340 590 340 620 200 650 100 560Z"/>
<path fill="#B3695B" d="M400 430 450 390 460 450 430 530 440 590 400 580Z"/>
<path fill="#B3695B" d="M550 450 590 400 640 430 660 520 680 600 640 700 560 700 580 600 560 520Z"/>
<path fill="#B3695B" d="M260 700 380 620 500 620 560 700 520 738 300 742Z"/>
<path fill="#CC9083" d="M330 700 400 650 480 660 500 720 420 735Z"/>
<path fill="#FF84DF" d="M800 250 860 150 870 -20 1198 -20 1198 735 900 720 860 660 830 560 800 450 790 330Z"/>
<path fill="#BE8ACF" d="M870 -20 1198 -20 1198 160 1100 180 1000 140 920 120 880 200 800 280 800 250 860 150Z"/>
<path fill="#FFFFFF" d="M1000 50 1060 40 1080 80 1020 90Z"/>
<path fill="#FFFFFF" d="M1110 40 1160 40 1160 70 1110 80Z"/>
<path fill="#FF38F2" d="M1000 200 1100 180 1198 200 1198 520 1130 550 1080 480 1040 400 1000 300 960 260Z"/>
<path fill="#B3695B" d="M900 340 960 270 1000 300 1040 400 1080 480 1130 550 1198 520 1198 600 1100 590 1000 560 940 600 900 700 880 600 890 450Z"/>
<path fill="#CC9083" d="M940 600 1000 560 1100 590 1198 600 1198 735 900 735 900 700Z"/>
<path fill="#E6B8AF" d="M960 640 1040 600 1100 640 1100 735 960 735Z"/>
<path fill="#FF84DF" d="M0 420 60 400 90 450 90 930 0 930Z"/>
<path fill="#B3695B" d="M0 520 80 500 90 700 0 700Z"/>
<path fill="#FFFFFF" d="M20 720 60 700 70 800 30 820Z"/>
<path fill="#FF84DF" d="M100 770 240 770 240 930 100 930Z"/>
<path fill="#B3695B" d="M160 780 200 775 220 880 180 880Z"/>
<path fill="#BE8ACF" d="M110 800 150 800 150 870 110 870Z"/>
</g></g>
<g clip-path="url(#cW7)"><g transform="translate(660 690) scale(0.11434)">
<path fill="#E6B8AF" d="M0 -20 2099 -20 2099 930 0 930Z"/>
<path fill="#CC9083" d="M260 -20 700 -20 700 100 760 200 900 280 940 340 900 400 800 420 700 440 600 440 560 380 520 300 440 220 340 120Z"/>
<path fill="#B3695B" d="M300 -20 560 -20 600 100 620 200 700 230 800 280 900 290 920 340 860 380 780 340 700 300 620 320 580 260 500 180 400 100Z"/>
<path fill="#994433" d="M400 20 480 20 520 80 560 160 540 200 480 140 430 80Z"/>
<path fill="#FF6BE8" d="M600 200 640 180 680 200 720 250 740 300 800 320 850 310 820 350 760 370 740 400 680 380 640 390 600 400 580 340 600 280Z"/>
<path fill="#BE8ACF" d="M620 230 680 225 690 300 640 320Z"/>
<path fill="#FF84DF" d="M450 90 500 70 510 120 470 130Z"/>
<path fill="#CC9083" d="M1260 180 1300 170 1310 210 1270 220Z"/>
<path fill="#CC9083" d="M1380 150 1450 140 1470 170 1400 190Z"/>
<path fill="#CC9083" d="M1400 220 1450 230 1420 270 1380 260Z"/>
<path fill="#CC9083" d="M1440 400 1500 330 1600 300 1640 350 1600 420 1520 440Z"/>
<path fill="#FF0000" d="M700 -20 1080 -20 1060 60 1080 120 1110 200 1150 280 1200 300 1260 290 1300 330 1330 400 1400 440 1440 420 1480 470 1560 460 1640 480 1700 440 1760 380 1800 300 1760 260 1700 290 1600 300 1520 270 1460 290 1560 240 1640 220 1700 210 1740 160 1780 60 1800 -20 2099 -20 2099 930 900 930 900 440 800 420 900 400 940 340 960 260 900 230 800 200 720 120Z"/>
<path fill="#FF0000" d="M1260 100 1400 30 1460 0 1560 60 1480 90 1380 100 1300 120Z"/>
<path fill="#FB3232" d="M920 120 1000 80 1060 100 1100 200 1150 290 1200 310 1100 340 1000 300 940 220Z"/>
<path fill="#FB3232" d="M800 440 900 420 1000 380 1100 350 1200 380 1300 440 1400 500 1500 520 1640 530 1760 480 1800 400 1850 300 1900 230 2000 180 2099 200 2099 930 900 930 900 500Z"/>
<path fill="#F76565" d="M1160 470 1240 480 1340 540 1440 570 1560 570 1660 560 1760 540 1860 500 1960 480 2099 470 2099 930 1300 930 1260 600Z"/>
<path fill="#F59898" d="M1260 580 1340 600 1440 620 1560 600 1640 560 1700 590 1800 600 1900 560 2000 560 2099 600 2099 930 1340 930 1300 700Z"/>
<path fill="#F4CCCC" d="M1320 690 1400 670 1500 680 1560 700 1600 760 1680 740 1760 780 1840 800 1900 850 1920 930 1400 930 1360 780Z"/>
<path fill="#FD9632" d="M1380 800 1440 790 1500 750 1560 750 1580 800 1600 860 1660 930 1420 930Z"/>
<path fill="#F76565" d="M560 440 700 440 800 420 900 440 880 540 840 620 780 600 700 560 620 500Z"/>
<path fill="#FF0000" d="M640 460 700 450 720 520 680 540Z"/>
<path fill="#F4CCCC" d="M780 540 840 520 850 600 800 600Z"/>
</g></g>
<g clip-path="url(#cW8)"><g transform="translate(500 580) scale(0.11434)">
<path fill="#FFFFFF" d="M0 0 2099 0 2099 892 0 892Z"/>
<path fill="#F76565" d="M0 0 130 40 110 130 130 250 200 380 130 460 100 560 90 640 150 690 140 720 80 780 0 740Z"/>
<path fill="#F4CCCC" d="M0 400 60 380 100 440 80 520 20 540 0 500Z"/>
<path fill="#F4CCCC" d="M0 600 60 600 80 680 40 720 0 700Z"/>
<path fill="#FF0000" d="M0 0 80 0 100 100 60 200 0 260Z"/>
<path fill="#CC9083" d="M0 0 40 0 30 60 0 80Z"/>
<path fill="#FD9632" d="M60 660 90 680 120 690 110 720 70 700Z"/>
<path fill="#FF84DF" d="M180 0 380 0 330 60 300 120 350 200 440 280 540 360 660 390 760 450 850 500 940 560 1000 620 1125 600 1125 700 1050 700 960 660 900 600 820 540 740 470 640 400 520 380 420 290 330 200 260 100 150 0Z"/>
<path fill="#CC9083" d="M150 0 260 100 330 200 420 290 520 380 640 400 740 470 820 540 900 600 960 660 1050 700 1125 700 1125 892 860 892 880 760 900 680 860 620 780 560 700 500 640 440 560 420 460 400 380 330 300 260 200 150 130 40Z"/>
<path fill="#B3695B" d="M960 680 1050 700 1125 720 1125 892 900 892 920 780Z"/>
<path fill="#F76565" d="M130 40 200 150 300 260 380 330 460 400 560 420 640 440 700 500 780 560 860 620 900 680 880 760 860 892 380 892 80 780 140 720 150 690 90 640 100 560 130 460 200 380 130 250 110 130Z"/>
<path fill="#FF0000" d="M200 150 300 260 380 330 460 400 560 420 640 440 700 500 780 560 860 620 900 680 880 760 800 700 700 600 600 500 500 470 400 460 300 480 330 400 260 330 200 250Z"/>
<path fill="#F59898" d="M240 620 400 560 480 520 560 500 640 540 700 620 640 700 560 760 560 892 380 892 80 780 140 720 150 690 100 620 160 560 220 600Z"/>
<path fill="#F4CCCC" d="M520 540 600 530 640 580 620 640 560 660 520 600Z"/>
<path fill="#F4CCCC" d="M260 700 340 690 370 760 320 800 260 780Z"/>
<path fill="#FD9632" d="M570 570 600 565 605 590 575 590Z"/>
<path fill="#F76565" d="M560 760 640 700 700 620 760 680 800 760 840 892 560 892Z"/>
<path fill="#FF0000" d="M870 610 930 620 940 650 880 650Z"/>
<path fill="#BE8ACF" d="M680 0 760 0 840 60 880 120 940 180 1020 220 1030 290 960 280 880 240 820 200 760 140 700 60Z"/>
<path fill="#FF84DF" d="M690 0 740 0 760 80 720 60Z"/>
<path fill="#994433" d="M705 0 725 0 740 50 725 50Z"/>
<path fill="#BE8ACF" d="M455 180 500 170 540 210 600 220 640 260 660 330 600 330 560 300 520 270 470 250Z"/>
<path fill="#FF84DF" d="M540 230 600 230 640 270 650 320 600 320 560 290Z"/>
<path fill="#B3695B" d="M585 255 630 250 650 310 610 310Z"/>
<path fill="#BE8ACF" d="M940 580 980 590 1020 640 1000 660 960 630Z"/>
<path fill="#FF84DF" d="M1500 230 1560 100 1640 70 1660 110 1620 200 1600 300 1580 380 1640 440 1700 480 1740 500 1700 540 1640 580 1600 640 1560 700 1620 760 1700 800 1760 830 1760 892 1160 892 1160 600 1240 680 1260 800 1400 760 1440 640 1480 520 1530 420 1500 340Z"/>
<path fill="#BE8ACF" d="M1500 230 1560 100 1640 70 1660 110 1620 200 1600 300 1540 320 1500 340Z"/>
<path fill="#BE8ACF" d="M1160 600 1240 660 1250 760 1200 740 1160 700Z"/>
<path fill="#BE8ACF" d="M1660 500 1700 470 1740 500 1700 540Z"/>
<path fill="#B3695B" d="M1460 600 1500 570 1510 640 1480 720 1500 800 1440 790 1440 680Z"/>
<path fill="#B3695B" d="M1600 640 1650 570 1700 620 1720 720 1740 800 1700 892 1300 892 1400 840 1560 800 1620 760 1560 700Z"/>
<path fill="#FF84DF" d="M1890 170 1960 120 2050 40 2099 30 2099 892 1860 892 1880 700 1850 560 1860 420 1920 330 1900 240Z"/>
<path fill="#BE8ACF" d="M1890 170 1960 120 2050 40 2099 30 2099 120 2000 200 1940 300 1900 420 1860 420 1920 330 1900 240Z"/>
<path fill="#B3695B" d="M1940 560 2030 450 2060 560 2099 640 2099 892 1960 892 1930 700Z"/>
<path fill="#994433" d="M1960 600 2020 520 2040 640 2000 700Z"/>
<path fill="#CC9083" d="M1980 760 2060 740 2099 760 2099 892 1980 892Z"/>
</g></g>
<g clip-path="url(#cFE)"><g transform="translate(1000 560) scale(0.11434)">
<path fill="#FF38F2" d="M0 0 2099 0 2099 892 0 892Z"/>
<path fill="#FF84DF" d="M0 60 120 40 240 60 200 160 300 160 330 220 420 180 520 220 620 280 680 330 700 372 260 372 260 300 160 300 100 280 0 290Z"/>
<path fill="#FFB0D8" d="M0 160 100 150 200 200 280 240 330 300 430 270 520 300 600 340 620 372 360 372 350 300 260 300 160 300 100 280 0 290Z"/>
<path fill="#FF84DF" d="M700 120 760 100 780 160 740 200 700 170Z"/>
<path fill="#FF84DF" d="M680 300 740 280 760 340 700 360Z"/>
<path fill="#BE8ACF" d="M920 30 1200 30 1140 120 1100 200 1040 280 1000 340 960 330 940 260 980 180 960 100Z"/>
<path fill="#D9B6E4" d="M930 40 1040 40 1020 120 960 100Z"/>
<path fill="#FFFFFF" d="M1200 60 1260 40 1340 60 1300 120 1240 180 1180 240 1120 300 1060 340 1040 300 1100 240 1160 160Z"/>
<path fill="#BE8ACF" d="M1340 60 1420 40 1600 30 1780 30 1700 100 1600 140 1500 170 1400 200 1330 180 1300 120Z"/>
<path fill="#FFFFFF" d="M1800 30 1640 150 1440 260 1330 330 1320 372 1560 372 1640 340 1740 310 1790 200 1860 120 1960 60 2099 35 2099 20 1800 20Z"/>
<path fill="#FFFFFF" d="M0 0 2099 0 2099 22 0 22Z"/>
<path fill="#BE8ACF" d="M1740 310 1790 200 1860 120 1960 60 2099 35 2099 200 2000 230 1900 260 1820 300 1780 340Z"/>
<path fill="#FF84DF" d="M1960 350 2040 300 2099 300 2099 425 1990 420Z"/>
<path fill="#994433" d="M0 290 100 285 170 330 250 300 330 280 360 310 350 372 280 380 300 430 270 470 330 500 400 490 480 520 560 480 610 500 600 892 0 892Z"/>
<path fill="#B3695B" d="M0 380 80 400 150 460 200 520 250 620 280 720 320 800 420 820 520 800 590 780 580 892 0 892Z"/>
<path fill="#CC9083" d="M80 700 160 680 230 740 280 820 300 892 60 892Z"/>
<path fill="#FFB0D8" d="M290 400 600 400 610 500 560 480 480 520 400 490 330 500 270 470 300 430Z"/>
<path fill="#FFB0D8" d="M340 510 400 500 410 560 360 590Z"/>
<path fill="#FFB0D8" d="M320 720 360 710 370 750 330 760Z"/>
<path fill="#FF62E6" d="M640 400 1240 400 1280 500 1340 530 1440 540 1130 560 1100 500 1000 520 900 560 800 540 720 560 640 520Z"/>
<path fill="#FF84DF" d="M640 520 720 560 800 540 900 560 1000 520 1100 500 1120 640 1130 720 1080 700 1000 720 940 700 860 680 800 700 720 690 640 640Z"/>
<path fill="#FFB0D8" d="M640 600 720 620 800 600 900 640 980 700 940 700 860 680 800 700 720 690 640 660Z"/>
<path fill="#FFB0D8" d="M900 600 1000 560 1080 580 1090 680 1040 740 1000 720 980 650Z"/>
<path fill="#FF38F2" d="M1000 760 1040 700 1080 640 1100 600 1130 720 1100 800 1060 840 1020 820Z"/>
<path fill="#994433" d="M620 640 640 660 720 690 800 700 860 680 940 700 1000 720 1020 820 1060 840 1100 800 1130 720 1160 892 600 892Z"/>
<path fill="#B3695B" d="M600 800 700 780 800 800 900 780 960 820 1000 892 590 892Z"/>
<path fill="#BE8ACF" d="M1240 400 1520 400 1500 470 1440 520 1340 530 1280 500Z"/>
<path fill="#FFFFFF" d="M1260 420 1340 400 1500 400 1480 440 1400 470 1320 500 1280 460Z"/>
<path fill="#FFB0D8" d="M1130 560 1200 520 1300 540 1440 540 1560 520 1600 580 1640 640 1560 680 1480 640 1400 680 1300 660 1240 700 1180 660 1140 640Z"/>
<path fill="#994433" d="M1140 720 1180 660 1240 700 1260 660 1300 640 1400 680 1480 640 1560 680 1640 640 1700 700 1760 760 1800 892 1160 892Z"/>
<path fill="#FFB0D8" d="M1290 760 1330 740 1350 790 1320 830 1290 810Z"/>
<path fill="#B3695B" d="M1180 892 1200 820 1280 860 1400 800 1500 780 1560 720 1640 700 1720 780 1780 892Z"/>
<path fill="#FFB0D8" d="M1540 480 1600 480 1700 440 1800 420 1900 440 1980 420 2099 430 2099 520 2000 500 1900 520 1800 560 1720 600 1640 620 1600 560Z"/>
<path fill="#994433" d="M1640 620 1720 600 1800 560 1900 520 2000 500 2099 520 2099 892 1860 892 1760 760 1700 700Z"/>
<path fill="#B3695B" d="M1800 660 1900 600 2000 580 2099 600 2099 892 1860 892 1800 780Z"/>
<path fill="#CC9083" d="M1900 700 1960 650 2040 660 2099 720 2099 892 1900 892Z"/>
</g></g>
<g clip-path="url(#cW4)"><g transform="translate(440 480) scale(0.11434)">
<path fill="#BE8ACF" d="M1410 220 1470 160 1560 180 1640 100 1650 200 1600 280 1560 360 1480 390 1440 330 1480 260Z"/>
<path fill="#FF55EA" d="M1480 230 1520 210 1540 260 1500 300Z"/>
<path fill="#FFFFFF" d="M1510 230 1540 225 1545 270 1520 275Z"/>
<path fill="#BE8ACF" d="M1280 300 1340 280 1400 310 1430 370 1400 420 1350 370 1290 350Z"/>
<path fill="#BE8ACF" d="M1755 150 1780 148 1780 165 1755 165Z"/>
</g></g>
<g clip-path="url(#cFK)"><g transform="translate(980 480) scale(0.11434)">
<path fill="#FFFFFF" d="M1350 560 1400 490 1480 480 1560 520 1560 700 1380 700 1340 640Z"/>
<path fill="#BE8ACF" d="M1400 600 1450 580 1480 640 1430 670Z"/>
<path fill="#BE8ACF" d="M1440 380 1480 370 1500 420 1460 440Z"/>
</g></g>
</g>
<g class="b">
<path d="M342 235.7 L922.4 235.7"/>
<path d="M922.4 235.5 L922.4 226.4 L931.4 226.4 L934.3 241.2"/>
<path d="M341.9 235.7 L341.2 239 L347.1 242.6 L348.3 248.6 L345.2 252.1 L349.5 255.7 L352.4 261.7 L348.3 266.4 L350.7 271.2 L351.4 278.3 L347.1 282.4 L341.2 286.7 L336.4 284.3 L335.2 278.3 L338.8 273.6 L342.9 275.2 L346.7 271.2 L343.6 266.4 L341.2 261.7"/>
<path stroke-width="5" d="M335.2 246.2 L338.8 243.8 L341.2 247.4 L337.6 250.5 L335.2 246.2"/>
<path d="M341.2 261.7 L335.2 258.1 L318.6 256.9 L307.9 253.3 L300.7 251"/>
<path stroke-width="3.9" d="M300.7 251 L301.4 261.7 L304.8 267.6 L309 273.6 L311.9 282.4 L313.8 289 L319.8 289.5 L315 293.8 L318.6 296.7 L315 301 L315.7 308.1 L316.2 310.5"/>
<path stroke-width="3.9" d="M316.2 310.5 L322.1 307.6 L331.7 308.6 L338.8 311.7 L341.2 317.6 L342.4 323.6 L351.4 326.4 L361.4 322.9 L372.1 322.9 L375.7 324.3 L386.4 321.9 L394.8 321.2 L406.7 317.1 L419.8 314.8 L432.9 314 L465 314"/>
<path stroke-width="3.9" d="M462.9 235.7 L462.9 304.5 L463.8 305.7 L465.7 314 L471 318.8 L474.5 323.6 L472.1 330.7 L467.4 341.4 L461.4 349.8 L457.9 356.9 L459.5 360.5 L465 362.9 L463.8 370 L462.9 374.8 L462.9 419.2"/>
<path stroke-width="3.9" d="M316.2 310.5 L318.1 320 L318.6 328.3 L316.7 343.8 L315 360.5 L312.6 374.8 L307.9 386.7 L304.8 397.4 L307.1 403.3 L307.9 410.5 L310.2 418.3"/>
<path d="M310.2 419.2 L588.7 419.2"/>
<path d="M400 419.2 L400 499.3 L513.6 604.5"/>
<path d="M525.4 419.2 L525.4 552.1"/>
<path stroke-width="3.9" d="M483.4 235.7 L483.3 262.9 L485.7 265.2 L491.2 271.2 L490 276.7 L497.1 280.7 L504.3 289 L510.2 295.7 L519.8 297.4 L518.6 305.7 L515.7 311.7 L517.4 316.4 L515 322.4 L516.2 327.1 L519.8 329 L526.9 322.4 L530.5 324.8 L534 334.3 L538.8 340.2 L540 345 L544.8 347.4 L547.1 354.5 L550.7 357.6 L554.3 354.5 L561.4 353.3 L571 352.1 L578.1 352.1 L581 347.4 L585.2 352.1 L588.6 354.5"/>
<path d="M588.7 341.2 L588.7 445.7"/>
<path d="M588.7 341.2 L736 341.2"/>
<path d="M736 235.7 L736 445.7"/>
<path d="M588.7 445.7 L779.2 445.7"/>
<path d="M631.6 445.7 L631.6 700.9"/>
<path d="M525.4 552.1 L934.3 552.1"/>
<path d="M779.2 445.7 L779.2 552.1"/>
<path d="M779.2 472.6 L918.8 472.6"/>
<path d="M736 316.2 L893 316.2"/>
<path stroke-width="3.9" d="M736 393.6 L852.1 393.1 L862.9 399.5 L865.2 397.9 L877.1 397.9 L889 403.1 L893.8 405.5"/>
<path stroke-width="3.9" d="M310.2 419.5 L315 431.4 L312.6 445.7 L307.1 458.8 L310.2 467.1 L317.4 474.3 L321 481.4 L321.4 498.1 L329.3 507.6 L336.4 518.3 L337.6 525.5 L347.1 527.9 L350.7 523.1 L352.4 531.4 L348.3 533.8 L359 540.5 L349.5 543.3 L354.3 550.5 L361.4 557.6 L360.2 567.1 L366.2 576.7 L372.1 583.8 L378.1 592.1 L381.7 598.1 L386.4 602.9 L387.6 614.8 L388.1 614.8 L397.6 617.1 L409.5 619.5 L419 626.7 L431 630.2 L436.9 636.2 L445.2 639.8 L454.8 651.7 L458.3 662.4 L461.4 668.3"/>
<path d="M461.4 668.3 L511.9 664.3"/>
<path stroke-width="3.9" d="M525.4 552.1 L525.2 574.3 L522.1 576.7 L513.8 574.3 L510.2 579 L512.6 591 L512.6 600.5 L514.3 604 L517.9 614.8 L521.4 623.1 L516.7 631.4 L514.3 641 L510.7 651.7 L515.5 657.6 L511.9 664.8"/>
<path d="M511.9 664.8 L510 670 L588.1 701 L631.7 701"/>
<path d="M631.7 701 L648.8 701 L648.8 688.6 L681 688.6 L682.1 684.3 L757.1 684.3"/>
<path d="M757.8 684.3 L757.8 552.1"/>
<path d="M757.8 564.8 L821.2 564.8"/>
<path d="M821.2 564.8 L821.2 611.2"/>
<path stroke-width="3.9" d="M821.4 611.2 L823.8 617.1 L835.7 621.9 L850 625.5 L851.4 626.9 L861 631.7 L868.1 635.2 L880 637.6 L889.5 634 L899 637.6 L911 634 L920.5 632.9 L930 636.4 L939.5 641.2"/>
<path stroke-width="3.9" d="M682.1 685 L688.1 693.3 L695.2 700.5 L704.8 708.8 L714.3 714.8 L721.4 724.3 L722.6 736.2 L731 748.1 L740.5 755.2 L752.4 762.4 L753.1 763.3 L761.4 756.2 L765 745.5 L772.1 740.7 L787.6 742.4 L794.8 747.9 L801.9 756.2 L807.9 765.7 L813.8 777.6 L821 789.5 L828.1 801.4 L832.9 813.3 L840 828.8 L847.1 834.8 L856.7 838.3 L866.2 841.9 L875.7 844.3 L880.5 841.9"/>
<path stroke-width="3.9" d="M880.5 841.9 L878.1 827.6 L872.3 816.3 L876 806.5 L869.9 808.9 L867.4 803.4 L873.6 805.2 L877.3 799.1 L878.5 794.1 L872.3 791.7 L879.7 789.2 L879.1 784.3 L887.1 779.3 L888.4 775.6 L892.1 770.7 L900.7 769.5 L898.2 774.4 L906.9 771.9 L915.5 767 L921.7 762.1 L922.9 756.5 L927.8 752.2 L926.6 743.6 L932.8 741.1 L931.5 747.3 L936.5 746 L946.3 742.3 L953.7 741.3"/>
<path stroke-width="3.9" d="M934.3 241.2 L941.4 243.6 L951 244.8 L953.3 248.3 L960.5 246 L967.6 244.8 L974.8 246.4 L979.5 250.7 L983.1 255 L986.7 252.6 L991.4 254.3 L996.2 257.9 L1002.1 260.2 L1008.1 257.9 L1014 255 L1017.6 258.3 L1029.5 259 L1043.8 261.9"/>
<path stroke-width="3.9" d="M1043.8 261.9 L1031.9 266.2 L1020 270.2 L1010.5 275.7 L1001 284 L991.4 290.7 L983.1 296.4"/>
<path stroke-width="3.9" d="M983.1 296.4 L993.8 294.8 L1004.5 292.4 L1015.2 290 L1016.4 294.8 L1012.9 298.8 L1016.4 297.1 L1022.4 298.3"/>
<path stroke-width="3.9" d="M1022.4 298.3 L1031.9 294.8 L1043.8 291.2 L1053.3 286.4 L1062.9 280.5 L1070 276.4 L1079.5 275.7 L1079.5 278.1 L1071.2 281.7 L1065.2 287.6 L1065.2 294.8 L1068.8 290 L1077.1 291.2 L1084.3 294.8 L1090.2 299.5 L1098.6 300.7 L1102.1 303.1 L1108.1 299.5 L1115.2 297.1 L1127.1 294.8 L1138.6 293.6 L1139 299.5 L1145 301.2 L1153.3 302.6 L1154.5 309 L1160.5 315"/>
<path stroke-width="3.9" d="M1160.5 315 L1151 313.8 L1143.8 315 L1136.7 312.6 L1127.1 312.6 L1117.6 315 L1108.1 318.6 L1102.1 323.3 L1098.6 319.8 L1093.8 318.6 L1090.2 326.9 L1086.7 334 L1083.1 340"/>
<path stroke-width="3.9" d="M1022.4 298.3 L1029.5 305.5 L1043.8 309 L1055.7 312.6 L1065.2 315 L1072.4 317.4 L1077.1 324.5 L1079.5 331.7 L1083.1 338.8"/>
<path stroke-width="3.9" d="M1083.1 338.8 L1079.5 346 L1073.6 353.1 L1081.9 347.1 L1089 341.2 L1095 333.3 L1091.4 341.2 L1087.9 349.5 L1084.3 357.9 L1080.7 369.8 L1078.3 381.7 L1077.1 391.2 L1078.3 400.7 L1079.5 406.7 L1076.3 411.4 L1080.3 418.3 L1083.2 425.7 L1088.3 430 L1094 428.6 L1099.7 424.9"/>
<path stroke-width="3.9" d="M1099.8 424.5 L1103.3 419.8 L1109.3 410.2 L1112.9 399.5 L1111.7 388.8 L1108.1 381.7 L1105.7 374.5 L1106.9 365 L1110.5 355.5 L1112.9 347.1 L1121.2 341.2 L1124.8 336.4 L1126 343.6 L1128.3 336.4 L1131.9 332.9 L1139 329.3 L1136.7 324.5 L1140.2 321"/>
<path stroke-width="3.9" d="M1140.2 321 L1151 322.1 L1160.5 325.7 L1170 331.7 L1174.8 338.8 L1172.4 347.1 L1172.4 355.5 L1170 361.4 L1165.2 366.2 L1160.5 369.8 L1160.5 375.7 L1165.2 378.8 L1170 372.1 L1174.8 367.4 L1181.9 365 L1186.7 368.6 L1189 379.3 L1191.4 392.4 L1189 403.1 L1184.3 405.5 L1181.9 412.6 L1174.8 419.8 L1172.4 425.7"/>
<path stroke-width="3.9" d="M880 235.5 L881.4 246 L881.9 257.9 L885.5 267.4 L887.9 276.9 L889 288.8 L891.4 300.7 L894.3 310.2 L893.8 317.4 L887.9 324.5 L892.6 329.3 L896.9 331.7 L896.9 379.3"/>
<path stroke-width="3.9" d="M892.6 380 L893.8 386.4 L896.2 391.2 L893.3 398.3 L893.8 405.5"/>
<path d="M892.6 380 L1005.7 379.3"/>
<path stroke-width="3.9" d="M983.1 296.4 L983.1 311.4 L974.8 316.2 L970.5 323.3 L973.6 329.3 L972.9 338.8 L972.9 347.1 L978.3 351.9 L987.9 355.5 L995 361.4 L1002.1 366.2 L1006.2 372.1 L1006.9 379.3 L1009.3 386.4 L1007.6 392.4 L1011 400.7 L1017.6 405.5"/>
<path d="M1017.6 406.2 L1079.5 406.2"/>
<path stroke-width="3.9" d="M893.8 405.5 L899.8 417.1 L904.5 426.7 L908.1 438.6 L909.3 450.5 L912.9 457.6 L915.2 466 L920 471.9 L926 475.5 L928.3 479 L924.8 483.8 L928.3 487.4 L934.3 492.1"/>
<path d="M934.3 492.1 L934.3 564.8"/>
<path d="M934.3 564.8 L936.7 564.8 L939.5 590 L939.5 641.2 L946.7 642.4 L946.7 656.7"/>
<path d="M912.9 457.1 L997.4 456.4 L1001.4 461.2"/>
<path stroke-width="3.9" d="M1026 410 L1029.5 419.5 L1026 429 L1017.6 432.6 L1010.5 436.2 L1009.3 442.1 L1011.7 448.1 L1005.7 455.2 L1001.4 461.2 L999.8 469.5 L1002.1 477.9 L1008.1 485 L1015.2 492.1 L1018.8 500.5 L1026 502.9 L1028.3 510 L1023.6 518.3 L1028.3 524.3 L1034.3 529 L1041.4 536.2 L1045 544.5 L1048.6 550.5 L1049.8 555.2 L1046.2 562.4 L1041.4 568.3 L1037.9 576.7 L1035.5 586.2 L1030.7 595.7 L1027.1 604 L1022.4 612.4 L1017.6 620.7 L1013.3 625.7 L1009.8 632.9 L1006.7 641.2 L1007.4 649.5 L1006.2 656.7 L1009.8 666.2 L1011 675.7 L1007.4 680.5 L1005 687.6 L1000.2 697.1 L997.9 706.7 L999 709.8"/>
<path stroke-width="3.9" d="M936.7 564.8 L1028.3 564.8 L1030.7 569.5 L1026 576.7 L1035.5 576.7"/>
<path d="M946.7 656.7 L1006.2 656.7"/>
<path stroke-width="3.9" d="M946.7 656.7 L946.7 682.9 L949 687.6 L953.8 697.1 L957.4 706.7 L955 718.6 L953.8 728.1 L952.6 737.6 L951.4 742.4"/>
<path stroke-width="3.9" d="M999 709.8 L1037.1 709.8 L1039 718.6 L1040.7 726.9 L1041.9 732.9"/>
<path stroke-width="3.9" d="M1050.5 550.5 L1055.7 546.2 L1064 548.1 L1067.6 541 L1072.4 529"/>
<path stroke-width="3.9" d="M1072.4 529 L1076 519.5 L1079.5 510 L1081.9 501.7 L1080.7 493.3 L1083.8 488.6 L1083.8 428.6"/>
<path stroke-width="3.9" d="M1072.4 529 L1079.5 526.7 L1089 529 L1096.2 526.7 L1103.3 524.3 L1108.1 520.7 L1115.2 521.9 L1122.4 516 L1127.1 507.6 L1134.3 505.2 L1140.2 501.7 L1142.6 496.9 L1148.6 499.3 L1155.7 504 L1165.2 506.4 L1174.8 507.6 L1181.9 505.2 L1186.7 511.2 L1196.2 510 L1198.6 504 L1205.7 498.1 L1212.9 491 L1217.6 483.8 L1224.8 479 L1228.3 469.5 L1229.5 457.6 L1231.4 450.5"/>
<path d="M1141.4 426.2 L1141.4 501.7"/>
<path d="M1103.3 425.5 L1170 426.2 L1172.9 427.1"/>
<path stroke-width="3.9" d="M1172.9 427.1 L1179.5 432.6 L1189 433.8 L1198.6 431.4 L1210.5 426.7 L1222.4 421.9 L1224.3 421.8 L1232.4 419.7 L1240.5 414.8 L1248.6 411.6"/>
<path d="M1047.4 564.3 L1073.6 564.8 L1073.6 560 L1165.2 561.9"/>
<path d="M1028.3 604 L1151 604 L1176.2 604"/>
<path d="M1070.5 604.8 L1066.9 661.4 L1065.7 728.1"/>
<path stroke-width="3.9" d="M1125.2 604.8 L1132.4 649.5 L1137.1 673.3 L1136 685.2 L1134.8 697.1 L1137.1 709 L1139.5 716.2"/>
<path d="M1136.7 709.7 L1081.8 709.7 L1082.9 716 L1086.9 722.3 L1088.6 728.4"/>
<path d="M1139.5 716.2 L1196.7 722.1 L1199 726.9 L1201.4 718.6 L1211 717.4"/>
<path stroke-width="3.9" d="M1172.9 609 L1180 616.2 L1187.1 625.7 L1196.7 637.6 L1203.8 647.1 L1211 656.7 L1215.7 666.2 L1220.5 675.7 L1222.9 681.7"/>
<path stroke-width="3.9" d="M1157.4 604.8 L1172.9 609 L1182.4 601.9 L1194.3 599.5 L1220.5 600 L1226.4 607.9 L1251.4 609 L1272.9 632.9"/>
<path stroke-width="3.9" d="M950.9 741.7 L957.2 740.6 L965.2 741.2 L972 744.6 L978.9 747.5 L984.6 746.9 L985.7 742.9 L991.5 740 L996 742.9 L999.5 742.3 L1000.6 746.9 L1006.3 750.3 L1008.6 754.9 L1014.3 759.5 L1018.9 754.9 L1024.6 755.5 L1026.9 760 L1031.5 753.7 L1032.6 749.2 L1037.2 751.5 L1042.9 754.9 L1053.2 757.2 L1052.1 761.7 L1045.2 764 L1044.6 759.5 L1040.6 753.7 L1039.5 748 L1042.9 744.6 L1046.3 738.9 L1049.8 734.3 L1047.5 730.9 L1042.9 733.2"/>
<path d="M1022.3 730.9 L1028 725.2 L1033.8 729.7 L1031.5 734.3 L1023.5 733.7 L1022.3 730.9"/>
<path stroke-width="3.9" d="M1042.9 733.2 L1042.9 728.6 L1049.8 726.3 L1056.6 724.6 L1064.6 726.9 L1070.3 727.4 L1072.1 722.9 L1073.8 714.9 L1076.1 722.9 L1077.8 728.6 L1078.9 730.3"/>
<path stroke-width="3.9" d="M1078.9 730.3 L1088.6 728.6 L1100.1 726.9 L1109.2 728 L1116.1 730.9 L1122.9 734.3 L1127.5 738.9 L1128.7 745.2 L1134.4 743.4 L1143.5 740 L1151.5 737.7 L1152.7 733.2 L1159.5 733.2 L1166.4 738.9 L1171 748 L1175.5 753.7 L1180 759.5 L1184.8 763.8 L1186 777.6 L1183.6 790.7 L1188.3 793.1 L1187.1 803.8 L1191.9 815.7 L1197.1 818.6 L1199 825.2 L1203.8 837.1 L1208.6 844.3 L1214.5 849 L1219.3 861 L1227.6 863.3 L1237.1 857.4"/>
<path d="M1237.1 857.4 L1240.7 846.7 L1243.1 822.9 L1239.5 808.6 L1233.6 791.9 L1226.4 770.5 L1219.3 746.7 L1214.5 727.6 L1211 716.9"/>
<path stroke-width="3.9" d="M1211 717.4 L1214.5 704.3 L1218.1 692.4 L1222.9 681.7"/>
<path stroke-width="3.9" d="M1222.9 681.7 L1230 673.3 L1239.5 666.2 L1249 659 L1256.2 649.5 L1263.3 642.4 L1272.9 632.9"/>
<path stroke-width="3.9" d="M1272.9 632.9 L1282.4 625.7 L1290 627 L1297.1 618.6 L1307.1 612.9 L1318.6 608.6 L1321.4 602.9 L1328.6 594.3 L1334.3 588.6 L1337.1 584.3 L1335.7 578.6 L1332.9 571.4 L1330 564.3"/>
<path stroke-width="5" d="M1329.3 567.1 L1321.4 571.4 L1312.1 568.6 L1311.4 581.4 L1321.4 577.9 L1325.7 585.7 L1329.3 582.1"/>
<path stroke-width="5" d="M1327.1 592.9 L1315.7 590 L1304.3 591.4 L1312.9 598.6 L1304.3 600.7 L1320 606.4"/>
<path d="M1165.2 561.9 L1207.1 561.7 L1330 564.3"/>
<path stroke-width="5" d="M1330 564.3 L1330.3 557.1 L1328.6 549.3 L1325.7 554.3 L1315.7 549.3 L1305.7 545.7 L1315.7 548.6 L1323.6 542.9 L1314.3 539.3 L1307.1 535.7 L1315.7 538.6 L1322.9 534.3 L1314.3 530 L1307.1 525.7 L1315.7 528.6 L1321.4 521.4"/>
<path stroke-width="3.9" d="M1327.1 548.6 L1330 545.7 L1337.1 534.3 L1344.3 525.7"/>
<path stroke-width="5" d="M1327.1 548.6 L1326 542.9 L1329.3 534.3 L1332.1 525.7 L1334.3 514.3"/>
<path stroke-width="3.9" d="M1164.3 562.4 L1175.7 557.9 L1182.9 552.9 L1190 547.1 L1198.6 541.4"/>
<path stroke-width="3.9" d="M1198.6 541.4 L1200 538.6 L1195.7 534.3 L1191.4 528.6 L1187.9 521.4 L1187.1 514.3 L1185.7 508.6"/>
<path stroke-width="3.9" d="M1198.6 541.4 L1207.1 547.1 L1214.3 542.9 L1221.4 541.4 L1230 539.3 L1235.7 537.1 L1237.1 532.9 L1241.4 525.7 L1243.5 520.9 L1246.8 514.8 L1250.2 509.4 L1255.6 513.5 L1259.6 508.7 L1262.3 503.4 L1267.7 501.3 L1273.1 496.6 L1275.8 491.9 L1277.1 485.2 L1287.9 495.6 L1291.2 488.6"/>
<path stroke-width="3.9" d="M1207.1 561.7 L1205.7 568.6 L1198.6 572.9 L1191.4 575.7 L1184.3 580 L1178.6 584.3 L1171.4 588.6 L1164.3 592.9 L1157.1 597.1 L1152.9 602.9 L1150 605.7"/>
<path stroke-width="3.9" d="M1253.2 479.5 L1253.2 494.6 L1261.6 487.2 L1267.7 484.2 L1273.1 482.2 L1278.5 481.3 L1288.5 481.8 L1290.6 487.2 L1293.3 491.9 L1297.3 495.3 L1303.4 499 L1307.4 501.3 L1304 506 L1299.3 510.8 L1298.6 514.8 L1301.3 516.8 L1304.7 513.5 L1310.8 516.1 L1317.5 521.5 L1320.2 524.9"/>
<path stroke-width="5" d="M1326.9 484.5 L1322.9 487.2 L1317.5 490.6 L1314.8 493.3 L1315.5 498.6 L1316.1 505.4 L1314.8 510.8 L1312.8 513.5 L1314.8 517.5 L1318.8 518.8 L1320.2 524.9"/>
<path stroke-width="5" d="M1326.9 484.5 L1325.6 490.6 L1324.2 496 L1324.9 502.7 L1324.2 508.7 L1322.9 512.1 L1325.6 516.1 L1329.6 517.5 L1330.9 520.9 L1329.6 524.9"/>
<path d="M1343.1 475.1 L1337.7 475.8 L1333.6 477 L1332.6 479.5 L1333.6 513.5 L1343.7 513.5"/>
<path stroke-width="3.9" d="M1343.1 475.1 L1337.7 481.8 L1339 487.2 L1343.1 493.3 L1344.4 500 L1347.1 505.4 L1347.8 512.1 L1347.1 517.5 L1344.4 522.9"/>
<path d="M1231.9 479.6 L1332.6 479.6"/>
<path d="M1231.9 479.6 L1231.9 420"/>
<path d="M1247.8 414.3 L1247.8 419.7 L1340.9 419.7"/>
<path stroke-width="3.9" d="M1340.9 419.7 L1345.7 423.7 L1347.3 430.2 L1352.2 435.1 L1349 440.7 L1344.9 446.4 L1346.5 450.4 L1343.3 455.3 L1345.7 461 L1350.6 465 L1354.6 468.7 L1349 472.3 L1342.5 475.5 L1343.1 475.1"/>
<path d="M1352.2 435.1 L1372.4 445.6"/>
<path stroke-width="3.9" d="M1372.4 445.6 L1368.4 451.2 L1363.5 459.3 L1370 462.6 L1370 473.9 L1366.8 482 L1361.9 490.1 L1355.4 496.6 L1350.6 500.6 L1348.2 496.6 L1340.9 491.7 L1338.4 486.9 L1337.6 481.2 L1337.6 476.8"/>
<path d="M1382.2 418.5 L1425.1 418.9"/>
<path d="M1386.2 400.2 L1382.2 418.5 L1378.1 428.6 L1377.8 440.7 L1374.1 444"/>
<path stroke-width="3.9" d="M1372.4 445.6 L1374.1 444 L1383 439.9 L1391.1 438 L1404 436.7 L1417 434.2 L1421.8 433.4 L1424.3 430.2 L1426.7 428.6"/>
<path d="M1417 419.7 L1417 434.2"/>
<path stroke-width="3.9" d="M1425.1 418.9 L1426.7 428.6 L1429.9 431.8 L1434.8 430.2 L1441.3 425.3"/>
<path d="M1385.4 400.2 L1425.9 401 L1431.5 396.2 L1436.4 395.4"/>
<path stroke-width="3.9" d="M1436.7 387.3 L1436.4 395.4 L1438 404.3 L1433.2 410 L1434 414.8 L1439.6 418.1 L1441.3 424.5 L1446.1 427.8 L1452.6 428.3 L1455.5 424.5 L1453.9 419.7 L1449.4 418.1"/>
<path stroke-width="3.9" d="M1382.2 340.5 L1381.3 350.7 L1383.8 357.2 L1380.5 365.2 L1383 373.3 L1380.5 378.2 L1384.6 380.6 L1384.6 389.5 L1385.4 400.2"/>
<path d="M1351.4 340.1 L1381.3 340.1 L1421.8 339"/>
<path stroke-width="3.9" d="M1421.8 339 L1420.2 344.2 L1418.6 349.1 L1421.5 352.3 L1417 356.3 L1411.3 358.8 L1410.5 365.2 L1406.4 373.3 L1403.2 379 L1401.6 389.5 L1400.1 397.6 L1399.6 400.3"/>
<path d="M1430.7 334.5 L1431.5 357.2 L1433.2 383.1 L1436.7 389.5 L1438 392"/>
<path stroke-width="3.9" d="M1421.8 339 L1423.4 333.7 L1428.3 332.9 L1433.2 331.2 L1436.4 333.7 L1440.4 329.6 L1438 326.4 L1442.9 322.3 L1446.9 318.3 L1447.7 313.4 L1446.9 308.6 L1451 303.7 L1452.6 296.4 L1459.1 288.3 L1468.8 276.2 L1473.6 275.9 L1473.6 281.9 L1476.9 283 L1487.4 278.6 L1491.5 277.8 L1501.2 285.9 L1502 316.7 L1499.5 321.5 L1502.8 324 L1508.5 325.6 L1507.6 332.9 L1510.9 335.3 L1514.9 336.9 L1516.5 342.6 L1517.4 346.6 L1514.1 349.1"/>
<path stroke-width="3.9" d="M1514.1 349.1 L1507.6 349.9 L1501.2 353.1 L1494.7 358 L1491.5 353.9 L1485 354.7 L1482.5 360.4 L1478.5 353.1 L1474.4 357.2 L1473.6 363.6 L1469.6 368.5 L1465.5 366.9 L1460.7 371.7 L1456.6 375 L1452.6 371.7 L1447.7 375 L1446.9 379.8 L1442.1 385.5 L1438.8 391.2 L1438 393.6"/>
<path stroke-width="3.9" d="M1248.6 411.6 L1256.7 406.7 L1263.1 402.7 L1266.4 399.4 L1264.8 394.6 L1262.3 390.5 L1263.1 385.5 L1272.9 383.4 L1284.2 383.1 L1290.7 384.7 L1293.9 387.9 L1300.4 386 L1306.9 386.6 L1313.3 383.1 L1318.2 379.8 L1322.7 379.8 L1323.1 375.8 L1321.1 371.7 L1323.9 367.7 L1319 364.4 L1326.3 360.4 L1331.2 356.3 L1332 353.1 L1337.6 347.4 L1342.5 343.4 L1351.4 340.1"/>
</g>
<path fill="#000" d="M346.3 522.3 349.2 520 353.7 520.6 356 523.5 353.7 526.9 354.9 531.5 359.5 537.2 358.3 540.6 352.6 538.3 349.2 541.8 346.3 538.3 348 531.5 346.9 526.9Z"/>
<circle cx="1038.3" cy="734.3" r="3.6" fill="#000"/>
<circle cx="1187.3" cy="792.6" r="4.6" fill="#000"/>
<circle cx="1184.8" cy="801.5" r="2.6" fill="#000"/>
<circle cx="1196.8" cy="818.0" r="3.4" fill="#000"/>
<circle cx="1193.5" cy="813.6" r="2.6" fill="#000"/>
<circle cx="1220.6" cy="861.6" r="4.2" fill="#000"/>
<circle cx="1217.2" cy="856.6" r="2.4" fill="#000"/>
<path fill="#000" stroke="#000" stroke-width="1" stroke-linejoin="round" d="M342.9 240.2 349.2 241.8 349.9 249.6 351.9 257.5 353.9 261.4 351.7 265.3 351.7 273.2 351.9 278.7 349.6 282.6 345.6 286.1 340.5 287.7 336.6 284.9 335 278.7 336.2 272.4 339.7 266.9 342.5 261.4 340.1 262.6 336.6 259.2 341.3 257.5 343.3 252 342.1 248.1 345.2 245.7 344.1 241.8Z"/>
<path fill="#fff" d="M342.1 274 345.2 276.3 344.1 277.9 340.9 276.3Z"/>
<path fill="#fff" d="M344.1 246.5 346.4 244.9 346.8 246.9 344.8 248.4Z"/>
<path fill="#fff" d="M347.7 255.9 349.2 255.5 349.6 258.3 348.4 258.6Z"/>
<circle cx="337.8" cy="246.5" r="4.2" fill="#000"/>
<path fill="none" stroke="#000" stroke-width="3.4" stroke-linejoin="round" stroke-linecap="round" d="M313.8 284.9 L321.3 288.5 L315.6 292 L320.9 295.3 L314.6 299.5"/>
<path fill="#000" stroke="#000" stroke-width="0.8" stroke-linejoin="round" d="M1374.5 447.1 1384 445.4 1394.9 443.6 1402.8 441.2 1407.1 442 1402 445.5 1396.5 447.1 1413.8 444 1415.7 445.5 1410.6 449.1 1402.8 453 1394.9 455.3 1387.1 457.7 1379.2 458.5 1369.8 460 1362.8 461.6 1361.2 459.3 1365.9 454.9 1371.4 451Z"/>
<path fill="#fff" d="M1376.9 452.2 1387.1 449.3 1397.3 448 1387.9 451.4 1379.2 454.2Z"/>
<path fill="#fff" d="M1384 447.3 1394.9 445.4 1401.6 443.4 1395.7 446.3 1387.1 448Z"/>
<ellipse cx="1439.7" cy="436.9" rx="4.9" ry="2.5" fill="#000"/>
<ellipse cx="1451.9" cy="438.5" rx="3.7" ry="2.5" fill="#000"/>
<path fill="none" stroke="#FDD68B" stroke-width="2.2" stroke-dasharray="7 3 3 4 9 5" d="M1180.1 878.4 L1182.9 879.1 L1197.6 879.9 L1206.1 878.4 L1211.7 876.3 L1220.1 875.2 L1225.7 871.4 L1234.1 865.1 L1239.7 856.7"/>
<path fill="#5AA8E6" d="M429.2 644.3 433.2 644.9 435.7 647.2 434.9 649.2 432 648.3Z"/>
<path fill="#4C6BEA" d="M428.4 655.7 431.4 657.4 436 662 434.9 663.7 430.9 660.9Z"/>
</svg>
<p class="legtitle">Avg. date<br>of 4th gen.<br>mid-larval<br>development</p>
<ul class="leg" style="left:1561px">
<li><i style="background:#FDD68B"></i>Jun-05</li>
<li><i style="background:#FDBE6E"></i>Jun-12</li>
<li><i style="background:#FDA950"></i>Jun-19</li>
<li><i style="background:#FD9632"></i>Jun-26</li>
<li><i style="background:#F4CCCC"></i>Jul-03</li>
<li><i style="background:#F59898"></i>Jul-10</li>
<li><i style="background:#F76565"></i>Jul-17</li>
<li><i style="background:#FB3232"></i>Jul-24</li>
<li><i style="background:#FF0000"></i>Jul-31</li>
<li><i style="background:#E6B8AF"></i>Aug-07</li>
<li><i style="background:#CC9083"></i>Aug-14</li>
<li><i style="background:#B3695B"></i>Aug-21</li>
<li><i style="background:#994433"></i>Aug-29</li>
<li><i style="background:#FFB0D8"></i>Sep-05</li>
<li><i style="background:#FF80DF"></i>Sep-12</li>
</ul>
<ul class="leg" style="left:1685.2px">
<li><i style="background:#FF55EA"></i>Sep-18</li>
<li><i style="background:#FF2AF4"></i>Sep-25</li>
<li><i style="background:#E1BEE7"></i>Oct-02</li>
<li><i style="background:#C893D5"></i>Oct-09</li>
<li><i style="background:#B06CC6"></i>Oct-16</li>
<li><i style="background:#9C46B8"></i>Oct-23</li>
<li><i style="background:#8B24AA"></i>Oct-30</li>
<li><i style="background:#B3ECFF"></i>Nov-06</li>
<li><i style="background:#87D4F0"></i>Nov-13</li>
<li><i style="background:#5BBDE4"></i>Nov-20</li>
<li><i style="background:#2DA5D8"></i>Nov-27</li>
<li><i style="background:#A4C2E8"></i>Dec-05</li>
<li><i style="background:#7B92EC"></i>Dec-12</li>
<li><i style="background:#5260F1"></i>Dec-19</li>
<li><i style="background:#2A2FF6"></i>Dec-26</li>
</ul>
</body>
</html>
